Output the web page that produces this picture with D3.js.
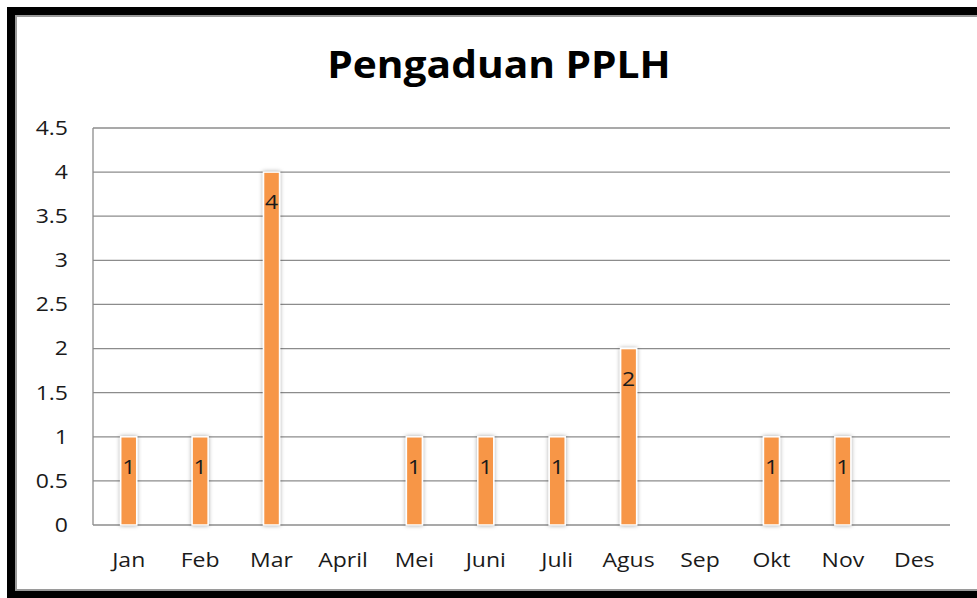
<!DOCTYPE html>
<html>
<head>
<meta charset="utf-8">
<script src="https://cdn.jsdelivr.net/npm/d3@7"></script>
<style>
  body { margin: 0; background: #fff; }
  text { font-family: "Open Sans", sans-serif; }
</style>
</head>
<body>
<div id="chart"></div>
<script>
// data
var months = ["Jan", "Feb", "Mar", "April", "Mei", "Juni", "Juli", "Agus", "Sep", "Okt", "Nov", "Des"];
var counts = [1, 1, 4, null, 1, 1, 1, 2, null, 1, 1, null];
var yTicks = [0, 0.5, 1, 1.5, 2, 2.5, 3, 3.5, 4, 4.5];

var width = 977, height = 598;
var margin = {top: 128, right: 27, bottom: 73, left: 93};
var sx = 1.15; // original text looks stretched sideways

var svg = d3.select("#chart").append("svg")
    .attr("width", width)
    .attr("height", height);

var defs = svg.append("defs");
var f = defs.append("filter").attr("id", "shadow")
    .attr("x", "-50%").attr("y", "-10%").attr("width", "200%").attr("height", "120%");
f.append("feDropShadow")
    .attr("dx", 0).attr("dy", 0).attr("stdDeviation", 2)
    .attr("flood-color", "#000").attr("flood-opacity", 0.35);

// frame
svg.append("rect")
    .attr("x", 16).attr("y", 16).attr("width", 1000).attr("height", 574)
    .attr("fill", "none").attr("stroke", "#9a9a9a").attr("stroke-width", 2);
svg.append("rect")
    .attr("x", 11).attr("y", 11).attr("width", 1000).attr("height", 584)
    .attr("fill", "none").attr("stroke", "#000").attr("stroke-width", 8);

var x = d3.scaleBand()
    .domain(months)
    .range([margin.left, width - margin.right]);

var y = d3.scaleLinear()
    .domain([0, 4.5])
    .range([height - margin.bottom, margin.top]);

// gridlines
svg.append("g")
  .selectAll("line")
  .data(yTicks)
  .join("line")
    .attr("x1", margin.left)
    .attr("x2", width - margin.right)
    .attr("y1", d => y(d))
    .attr("y2", d => y(d))
    .attr("stroke", "#8c8c8c")
    .attr("stroke-width", 1.3);

svg.append("line")
    .attr("x1", margin.left).attr("x2", margin.left)
    .attr("y1", y(0)).attr("y2", y(4.5))
    .attr("stroke", "#8c8c8c").attr("stroke-width", 1.3);

// y axis labels
var yAxis = d3.axisLeft(y).tickValues(yTicks).tickSize(0).tickPadding(0)
    .tickFormat(d3.format("~g"));
var gy = svg.append("g")
    .attr("transform", `translate(${margin.left - 25},0)`)
    .call(yAxis);
gy.select(".domain").remove();
gy.selectAll("text")
    .attr("font-family", "Open Sans")
    .attr("font-size", 20)
    .attr("fill", "#1a1a1a")
    .attr("transform", `scale(${sx},1)`);

// x axis labels
var xAxis = d3.axisBottom(x).tickSize(0).tickPadding(0);
var gx = svg.append("g")
    .attr("transform", `translate(0,${y(0) + 42})`)
    .call(xAxis);
gx.select(".domain").remove();
gx.selectAll("text")
    .attr("font-family", "Open Sans")
    .attr("font-size", 20)
    .attr("fill", "#1a1a1a")
    .attr("dy", 0)
    .attr("transform", `scale(${sx},1)`);

// bars
var bw = 16;
var data = months.map((m, i) => ({m: m, v: counts[i]})).filter(d => d.v != null);

svg.append("g")
  .selectAll("rect")
  .data(data)
  .join("rect")
    .attr("x", d => x(d.m) + x.bandwidth() / 2 - bw / 2)
    .attr("y", d => y(d.v))
    .attr("width", bw)
    .attr("height", d => y(0) - y(d.v))
    .attr("fill", "#f79646")
    .attr("stroke", "#fff")
    .attr("stroke-width", 1.5)
    .attr("filter", "url(#shadow)");

// value labels
svg.append("g")
  .selectAll("text")
  .data(data)
  .join("text")
    .attr("transform", d => `translate(${x(d.m) + x.bandwidth() / 2},${y(d.v) + 37}) scale(${sx},1)`)
    .attr("text-anchor", "middle")
    .attr("font-size", 20)
    .attr("fill", "#1a1a1a")
    .text(d => d.v);

// title
svg.append("text")
    .attr("transform", `translate(499,78) scale(1.1,1)`)
    .attr("text-anchor", "middle")
    .attr("font-size", 37)
    .attr("font-weight", "bold")
    .attr("fill", "#000")
    .text("Pengaduan PPLH");
</script>
</body>
</html>
